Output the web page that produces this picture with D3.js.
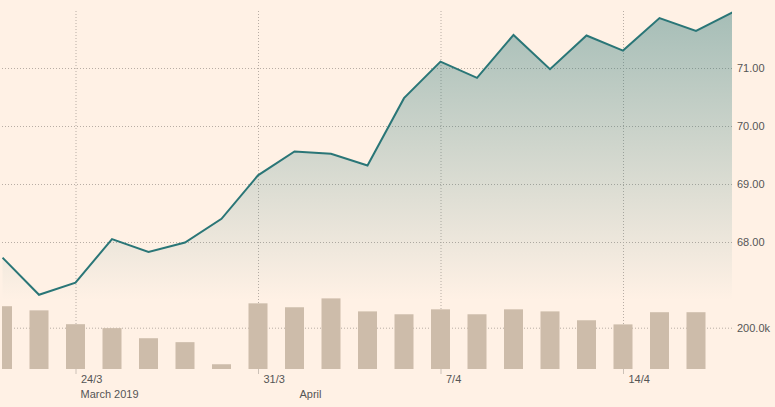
<!DOCTYPE html>
<html>
<head>
<meta charset="utf-8">
<script src="https://cdn.jsdelivr.net/npm/d3@7"></script>
<style>
  html, body { margin: 0; padding: 0; background: #fff1e5; }
  svg { display: block; font-family: "Liberation Sans", Arial, sans-serif; }
</style>
</head>
<body>
<div id="chartParent"></div>
<script>
// trading days (Sun-Thu week)
const dates = ["2019-03-20", "2019-03-21", "2019-03-24", "2019-03-25", "2019-03-26", "2019-03-27", "2019-03-28",
  "2019-03-31", "2019-04-01", "2019-04-02", "2019-04-03", "2019-04-04",
  "2019-04-07", "2019-04-08", "2019-04-09", "2019-04-10", "2019-04-11",
  "2019-04-14", "2019-04-15", "2019-04-16", "2019-04-17"];
const prices = [67.73, 67.09, 67.30, 68.05, 67.83, 67.99, 68.40,
  69.15, 69.56, 69.52, 69.32, 70.48,
  71.11, 70.83, 71.57, 70.98, 71.56,
  71.30, 71.86, 71.64, 71.96];
const volumes = [304000, 284000, 217000, 198000, 149000, 130000, 23000,
  318000, 299000, 342000, 279000, 265000,
  289000, 265000, 289000, 279000, 236000,
  216000, 275000, 275000, null];

const priceTicks = [68, 69, 70, 71];
const volumeTicks = [200000];
const dateTicks = ["2019-03-24", "2019-03-31", "2019-04-07", "2019-04-14"];
const dateTickLabels = ["24/3", "31/3", "7/4", "14/4"];
const monthTicks = ["2019-03-24", "2019-04-01"];
const monthLabels = ["March 2019", "April"];

const W = 775, H = 407;
const plotLeft = 2, plotRight = 732, plotTop = 10, plotBottom = 369;

const svg = d3.select("#chartParent")
  .append("svg")
  .attr("width", W)
  .attr("height", H);

svg.append("rect")
  .attr("width", W).attr("height", H)
  .style("fill", "#fff1e5");

const defs = svg.append("defs");
defs.append("clipPath").attr("id", "plotClip")
  .append("rect")
  .attr("x", plotLeft).attr("y", 0)
  .attr("width", plotRight - plotLeft).attr("height", plotBottom);

const grad = defs.append("linearGradient")
  .attr("id", "areaGrad")
  .attr("gradientUnits", "userSpaceOnUse")
  .attr("x1", 0).attr("x2", 0)
  .attr("y1", 12).attr("y2", 300);
grad.append("stop").attr("offset", 0).attr("stop-color", "#2a7677").attr("stop-opacity", 0.42);
grad.append("stop").attr("offset", 1).attr("stop-color", "#2a7677").attr("stop-opacity", 0);

// scales
const x = d3.scalePoint()
  .domain(dates)
  .range([2.5, 732.5]);

const y = d3.scaleLinear()
  .domain([67, 72])
  .range([300, 10]);

const yVol = d3.scaleLinear()
  .domain([0, 400000])
  .range([plotBottom, plotBottom - 82.6]);

const gridColor = "#b8ada4";

// horizontal price grid + labels
const priceAxis = svg.append("g")
  .attr("transform", `translate(${plotLeft},0)`)
  .call(d3.axisRight(y).tickValues(priceTicks).tickSize(plotRight - plotLeft).tickPadding(5)
    .tickFormat(d3.format(".2f")));
priceAxis.select(".domain").remove();

// horizontal volume grid + label
const volAxis = svg.append("g")
  .attr("transform", `translate(${plotLeft},0)`)
  .call(d3.axisRight(yVol).tickValues(volumeTicks).tickSize(plotRight - plotLeft).tickPadding(5)
    .tickFormat(d => d3.format(".1f")(d / 1000) + "k"));
volAxis.select(".domain").remove();

// vertical grid
const xGrid = svg.append("g")
  .attr("transform", `translate(0,${plotBottom})`)
  .call(d3.axisBottom(x).tickValues(dateTicks).tickSize(-(plotBottom - plotTop)).tickFormat(""));
xGrid.select(".domain").remove();

svg.selectAll(".tick line")
  .attr("stroke", gridColor)
  .attr("stroke-dasharray", "1,2");
svg.selectAll(".tick text")
  .attr("fill", "#555")
  .style("font-size", "11px")
  .style("font-family", "'Liberation Sans', Arial, sans-serif");

const plot = svg.append("g").attr("clip-path", "url(#plotClip)");

// area
const area = d3.area()
  .x((d, i) => x(dates[i]))
  .y0(300)
  .y1(d => y(d));
plot.append("path")
  .datum(prices)
  .attr("d", area)
  .style("fill", "url(#areaGrad)");

// volume bars
plot.append("g")
  .selectAll("rect")
  .data(volumes.map((v, i) => ({ date: dates[i], v: v })).filter(d => d.v != null))
  .enter()
  .append("rect")
    .attr("x", d => x(d.date) - 9.5)
    .attr("width", 19)
    .attr("y", d => yVol(d.v))
    .attr("height", d => plotBottom - yVol(d.v))
    .style("fill", "#cdbcaa");

// price line
const line = d3.line()
  .x((d, i) => x(dates[i]))
  .y(d => y(d));
plot.append("path")
  .datum(prices)
  .attr("d", line)
  .style("fill", "none")
  .style("stroke", "#2a7677")
  .style("stroke-width", 2)
  .style("stroke-linejoin", "miter");

// bottom axis: day ticks
const dayAxis = svg.append("g")
  .attr("transform", `translate(0,${plotBottom})`)
  .call(d3.axisBottom(x).tickValues(dateTicks).tickSize(5).tickPadding(3)
    .tickFormat((d, i) => dateTickLabels[i]));
dayAxis.select(".domain").remove();
dayAxis.selectAll(".tick line").attr("stroke", "#ccc1b7");
dayAxis.selectAll(".tick text")
  .attr("text-anchor", "start")
  .attr("x", 5)
  .attr("y", 14)
  .attr("dy", 0)
  .attr("fill", "#555")
  .style("font-size", "11px")
  .style("font-family", "'Liberation Sans', Arial, sans-serif");

// month labels
svg.append("g")
  .selectAll("text")
  .data(monthTicks)
  .enter()
  .append("text")
    .attr("x", d => x(d) + 5)
    .attr("y", plotBottom + 29)
    .text((d, i) => monthLabels[i])
    .attr("fill", "#555")
    .style("font-size", "11px");
</script>
</body>
</html>
